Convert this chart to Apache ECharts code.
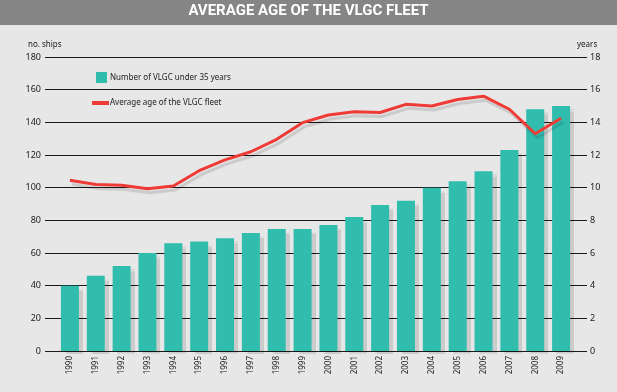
<!DOCTYPE html>
<html><head><meta charset="utf-8">
<script src="https://cdn.jsdelivr.net/npm/echarts@6/dist/echarts.min.js"></script>
<style>html,body{margin:0;padding:0;background:#e7e7e7;}#c{width:617px;height:392px;}</style>
</head><body><div id="c"></div>
<script>
const years = ['1990','1991','1992','1993','1994','1995','1996','1997','1998','1999','2000','2001','2002','2003','2004','2005','2006','2007','2008','2009'];
const vlgcUnder35 = [40,46,52,60,66,67,69,72.3,74.7,74.7,77.2,82,89.4,92,100,104,110,123,148,150];
const averageAge = [10.45,10.2,10.15,9.93,10.1,11.04,11.7,12.2,12.96,13.98,14.45,14.65,14.6,15.1,15.0,15.4,15.6,14.8,13.3,14.25];
const shipTicks = {min:0,max:180,interval:20};
const ageTicks = {min:0,max:18,interval:2};

const chart = echarts.init(document.getElementById('c'));
const txt = '#1a1a1a';
chart.setOption({
  backgroundColor:'#e7e7e7',
  animation:false,
  graphic:[
    {type:'rect',left:0,top:0,shape:{width:617,height:25},style:{fill:'#858585'},z:-1},
    {type:'text',left:'center',top:4,style:{text:'AVERAGE AGE OF THE VLGC FLEET',fill:'#fff',font:'bold 15px Roboto'}},
    {type:'text',left:28,top:41,style:{text:'no. ships',fill:txt,font:'8px "Noto Sans"'}},
    {type:'text',left:577,top:41,style:{text:'years',fill:txt,font:'8px "Noto Sans"'}}
  ],
  legend:[
    {data:[{name:'Number of VLGC under 35 years',icon:'rect'}],left:96,top:72,itemWidth:11,itemHeight:11,itemGap:0,
     textStyle:{fontSize:8,color:txt,fontFamily:'Noto Sans',padding:[0,0,0,-2]},padding:0,selectedMode:false},
    {data:[{name:'Average age of the VLGC fleet',icon:'rect'}],left:92,top:99,itemWidth:17,itemHeight:4,itemGap:0,
     textStyle:{fontSize:8,color:txt,fontFamily:'Noto Sans',padding:[0,0,0,-4]},padding:0,selectedMode:false}
  ],
  grid:[
    {left:45,right:30,top:57,bottom:41},
    {left:57,right:43,top:57,bottom:41}
  ],
  xAxis:[
    {gridIndex:0,type:'value',show:false,min:0,max:1},
    {gridIndex:1,type:'category',data:years,boundaryGap:true,
     axisLine:{show:false},axisTick:{show:false},
     axisLabel:{rotate:90,fontSize:8,color:txt,margin:5,fontFamily:'Noto Sans',interval:0}}
  ],
  yAxis:[
    {gridIndex:0,type:'value',min:shipTicks.min,max:shipTicks.max,interval:shipTicks.interval,position:'left',
     axisLine:{show:false},axisTick:{show:false},
     axisLabel:{fontSize:9,color:txt,margin:4,fontFamily:'Noto Sans'},
     splitLine:{show:true,lineStyle:{color:'#1a1a1a',width:1}}},
    {gridIndex:0,type:'value',min:ageTicks.min,max:ageTicks.max,interval:ageTicks.interval,position:'right',
     axisLine:{show:false},axisTick:{show:false},
     axisLabel:{fontSize:9,color:txt,margin:3,fontFamily:'Noto Sans'},splitLine:{show:false}},
    {gridIndex:1,type:'value',min:shipTicks.min,max:shipTicks.max,show:false},
    {gridIndex:1,type:'value',min:ageTicks.min,max:ageTicks.max,show:false}
  ],
  series:[
    {name:'Number of VLGC under 35 years',type:'bar',xAxisIndex:1,yAxisIndex:2,data:vlgcUnder35,barWidth:18,
     itemStyle:{color:'#30bdae',shadowColor:'rgba(0,0,0,0.12)',shadowOffsetX:4,shadowOffsetY:3,shadowBlur:1},z:3},
    {name:'Average age of the VLGC fleet',type:'line',xAxisIndex:1,yAxisIndex:3,data:averageAge,
     symbol:'none',color:'#ee3b35',
     lineStyle:{color:'#ee3b35',width:3,shadowColor:'rgba(0,0,0,0.13)',shadowOffsetY:4,shadowOffsetX:2,shadowBlur:1},z:5}
  ]
});
</script></body></html>
